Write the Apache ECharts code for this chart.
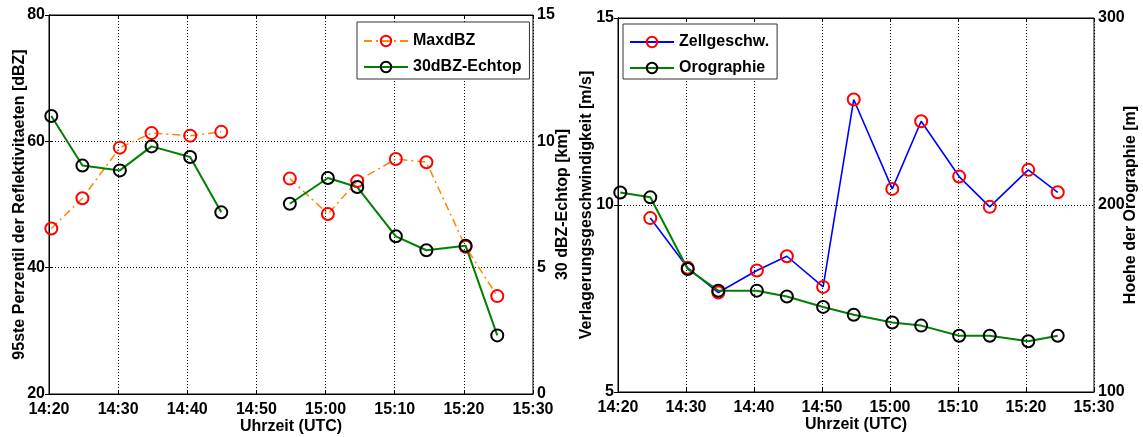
<!DOCTYPE html>
<html><head><meta charset="utf-8">
<script src="https://cdn.jsdelivr.net/npm/echarts@6/dist/echarts.min.js"></script>
<style>html,body{margin:0;padding:0;background:#fff}#c{width:1143px;height:437px}</style>
</head><body><div id="c"></div><script>
// ---- data ----
const xTickLabels = ['14:20','14:30','14:40','14:50','15:00','15:10','15:20','15:30'];
const timesLeft = ['14:20:20','14:24:50','14:30:15','14:34:50','14:40:25','14:44:55','14:50:00','14:54:50','15:00:20','15:04:35','15:10:10','15:14:35','15:20:15','15:24:50'];
const maxdBZ = [46.2, 51.0, 59.0, 61.3, 60.9, 61.5, null, 54.1, 48.5, 53.7, 57.2, 56.7, 43.3, 35.5];
const echtop = [11.0, 9.04, 8.85, 9.8, 9.38, 7.19, null, 7.53, 8.55, 8.19, 6.24, 5.69, 5.87, 2.32];
const timesRight = ['14:20:20','14:24:45','14:30:15','14:34:45','14:40:25','14:44:50','14:50:10','14:54:40','15:00:20','15:04:35','15:10:10','15:14:40','15:20:20','15:24:40'];
const zellgeschw = [null, 9.65, 8.32, 7.66, 8.25, 8.63, 7.81, 12.82, 10.43, 12.24, 10.76, 9.95, 10.94, 10.34];
const orographie = [206.7, 204.1, 165.8, 154.2, 154.2, 151.1, 145.5, 141.3, 137.2, 135.5, 130.1, 130.1, 127.1, 130.1];

// ---- helpers ----
const FONT = 'Liberation Sans, Arial, sans-serif';
function toMin(t){const p=t.split(':').map(Number);return p[0]*60+p[1]+(p[2]||0)/60-(14*60+20);}
function pairs(times, vals){return times.map((t,i)=>[toMin(t), vals[i]==null?'-':vals[i]]);}

function xAx(g, top){
  return {
    type:'value', gridIndex:g, min:0, max:70, interval:10, position: top?'top':'bottom',
    axisLine:{show:true, onZero:false, lineStyle:{color:'#000', width:1}},
    axisTick:{show:true, inside:true, length:4, lineStyle:{color:'#000'}},
    axisLabel:{show:!top, formatter:v=>xTickLabels[Math.round(v/10)], fontSize:16, fontWeight:'bold', color:'#000', margin:8, fontFamily:FONT, showMinLabel:true, showMaxLabel:true},
    splitLine:{show:!top, lineStyle:{color:'#000', type:[1,2], width:1}},
    name: top?'':'Uhrzeit (UTC)', nameLocation:'middle', nameGap:25, nameMoveOverlap:false,
    nameTextStyle:{fontSize:16, fontWeight:'bold', color:'#000', fontFamily:FONT}
  };
}
function yAx(g, pos, min, max, interval, name, nameGap, split){
  return {
    type:'value', gridIndex:g, position:pos, min:min, max:max, interval:interval,
    axisLine:{show:true, lineStyle:{color:'#000', width:1}},
    axisTick:{show:true, inside:true, length:4, lineStyle:{color:'#000'}},
    axisLabel:{fontSize:16, fontWeight:'bold', color:'#000', margin:4, fontFamily:FONT, padding:[3,0,0,0]},
    splitLine:{show:split, lineStyle:{color:'#000', type:[1,2], width:1}},
    name:name, nameLocation:'middle', nameGap:nameGap, nameMoveOverlap:false,
    nameTextStyle:{fontSize:16, fontWeight:'bold', color:'#000', fontFamily:FONT}
  };
}
function lineSeries(name, xi, yi, data, lineColor, lineType, lineWidth, markColor){
  return {
    name:name, type:'line', xAxisIndex:xi, yAxisIndex:yi, data:data,
    connectNulls:false, symbol:'circle', symbolSize:12, showSymbol:true,
    lineStyle:{color:lineColor, width:lineWidth, type:lineType},
    itemStyle:{color:'rgba(255,255,255,0)', borderColor:markColor, borderWidth:2},
    emphasis:{disabled:true}, animation:false
  };
}
const legendCommon = {
  orient:'vertical', backgroundColor:'#fff', borderColor:'#333', borderWidth:1,
  itemWidth:44, itemHeight:13, itemGap:10,
  textStyle:{fontSize:16, fontWeight:'bold', color:'#000', fontFamily:FONT},
  selectedMode:false
};

const chart = echarts.init(document.getElementById('c'), null, {renderer:'canvas'});
chart.setOption({
  animation:false,
  backgroundColor:'#fff',
  grid:[
    {left:49, top:15, width:484, height:379, outerBoundsMode:'none', containLabel:false, show:true, borderColor:'#000', borderWidth:1, backgroundColor:'transparent'},
    {left:618, top:18, width:476, height:374, outerBoundsMode:'none', containLabel:false, show:true, borderColor:'#000', borderWidth:1, backgroundColor:'transparent'}
  ],
  xAxis:[xAx(0,false), xAx(0,true), xAx(1,false), xAx(1,true)],
  yAxis:[
    yAx(0,'left',20,80,20,'95ste Perzentil der Reflektivitaeten [dBZ]',21,true),
    yAx(0,'right',0,15,5,'30 dBZ-Echtop [km]',22,false),
    yAx(1,'left',5,15,5,'Verlagerungsgeschwindigkeit [m/s]',23,true),
    yAx(1,'right',100,300,100,'Hoehe der Orographie [m]',29,false)
  ],
  legend:[
    Object.assign({}, legendCommon, {left:357, top:22, padding:[11,8,4,6], data:['MaxdBZ','30dBZ-Echtop']}),
    Object.assign({}, legendCommon, {left:623, top:24, padding:[10,8,3,6], data:['Zellgeschw.','Orographie']})
  ],
  series:[
    lineSeries('MaxdBZ',0,0,pairs(timesLeft,maxdBZ),'#FF8800',[8,4,2,4],1.5,'#FF0000'),
    lineSeries('30dBZ-Echtop',0,1,pairs(timesLeft,echtop),'#008000','solid',2,'#000000'),
    lineSeries('Zellgeschw.',2,2,pairs(timesRight,zellgeschw),'#0000FF','solid',1.6,'#FF0000'),
    lineSeries('Orographie',2,3,pairs(timesRight,orographie),'#008000','solid',2,'#000000')
  ]
});
</script></body></html>
